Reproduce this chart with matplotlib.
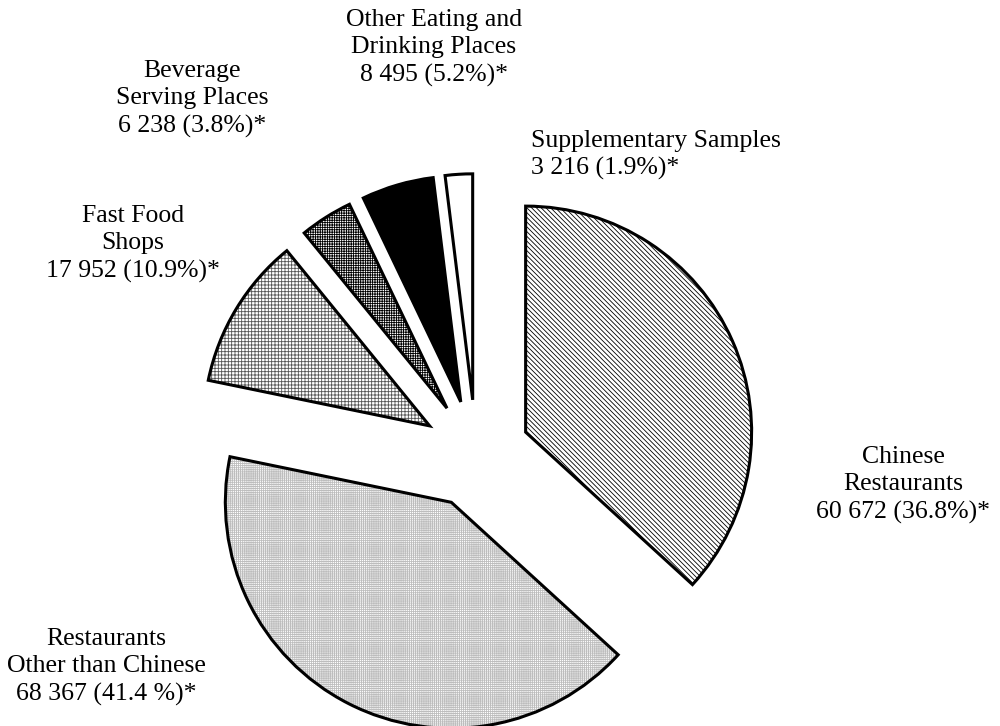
import matplotlib
matplotlib.use("Agg")
import matplotlib.pyplot as plt

# categories and counts
labels = ["Chinese\nRestaurants\n60 672 (36.8%)*",
          "Restaurants\nOther than Chinese\n68 367 (41.4 %)*",
          "Fast Food\nShops\n17 952 (10.9%)*",
          "Beverage\nServing Places\n6 238 (3.8%)*",
          "Other Eating and\nDrinking Places\n8 495 (5.2%)*",
          "Supplementary Samples\n3 216 (1.9%)*"]
counts = [60672, 68367, 17952, 6238, 8495, 3216]

# fill style per slice
fills = ["white", "white", "white", "white", "black", "white"]
hatches = ["\\" * 7, "+" * 8, "+" * 5, "+" * 7, "", ""]
hatch_cols = ["black", "#bdbdbd", "#555555", "black", "black", "black"]

# label anchor (pixels from top-left) and alignment
label_pos = [(903, 485), (106, 667), (133, 244), (192, 99), (434, 48), (531, 155)]
label_ha = ["center", "center", "center", "center", "center", "left"]

plt.rcParams["font.family"] = ["Liberation Serif", "DejaVu Serif"]
plt.rcParams["hatch.linewidth"] = 0.6

fig = plt.figure(figsize=(10, 7.26), dpi=100)
ax = fig.add_axes([0, 0, 1, 1])

ctr = (476, 726 - 454)
rad = 226
# explode is in data units here, so scale by the radius
expl = [0.24 * rad] * len(counts)

# hatched fills first
wedges, _ = ax.pie(counts, startangle=90, counterclock=False, center=ctr,
                   radius=rad, explode=expl, frame=True,
                   wedgeprops=dict(linewidth=0))
for w, fc, h, hc in zip(wedges, fills, hatches, hatch_cols):
    w.set_facecolor(fc)
    w.set_hatch(h)
    w.set_edgecolor(hc)

# outlines on top
ax.pie(counts, startangle=90, counterclock=False, center=ctr, radius=rad,
       explode=expl, frame=True,
       wedgeprops=dict(fill=False, edgecolor="black", linewidth=2.2))

ax.set_xlim(0, 1000)
ax.set_ylim(0, 726)
ax.axis("off")

for txt, (x, y), ha in zip(labels, label_pos, label_ha):
    ax.text(x, 726 - y, txt, ha=ha, va="center", fontsize=18.5,
            linespacing=1.33, multialignment=ha)

fig.savefig("out.png", dpi=100)
